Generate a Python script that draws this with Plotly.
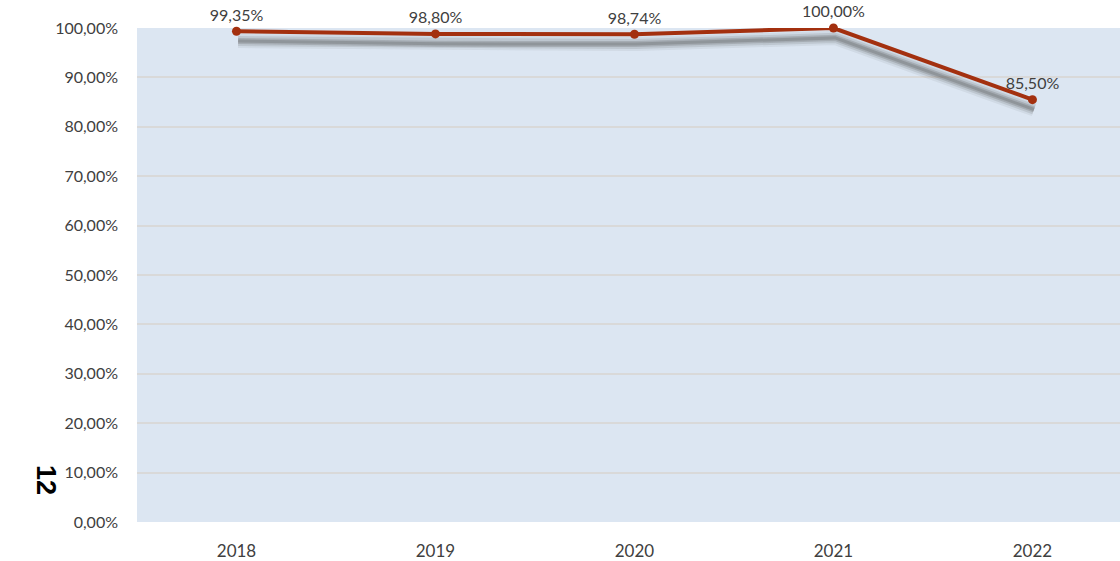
import plotly.graph_objects as go

years = ["2018", "2019", "2020", "2021", "2022"]
values = [99.35, 98.80, 98.74, 100.00, 85.50]
y_ticks = [0, 10, 20, 30, 40, 50, 60, 70, 80, 90, 100]
side_label = "12"

xs = list(range(len(years)))
shadow_dx = 0.008
shadow_dy = -2.0

FONT = "Lato, Open Sans, Liberation Sans, sans-serif"

fig = go.Figure()
# soft shadow (layers for blur)
for col, w in [("rgba(80,80,80,0.08)", 14), ("rgba(80,80,80,0.14)", 10), ("rgba(80,80,80,0.22)", 6), ("rgba(80,80,80,0.25)", 3)]:
    fig.add_trace(go.Scatter(x=[x + shadow_dx for x in xs], y=[v + shadow_dy for v in values],
                             mode="lines", line=dict(color=col, width=w),
                             hoverinfo="skip", showlegend=False, cliponaxis=False))
fig.add_trace(go.Scatter(x=xs, y=values, mode="lines+markers+text",
                         line=dict(color="#a3300f", width=4),
                         marker=dict(color="#a3300f", size=9),
                         text=[f"{v:.2f}".replace(".", ",") + "%" for v in values],
                         textposition="top center",
                         textfont=dict(family=FONT, size=16, color="#404040"),
                         showlegend=False, cliponaxis=False))

fig.add_annotation(text=f"<b>{side_label}</b>", xref="paper", yref="paper",
                   x=-0.0926, y=0.085, xanchor="center", yanchor="middle",
                   showarrow=False, textangle=90,
                   font=dict(family="Liberation Sans, Arial, sans-serif", size=27, color="#000000"))

fig.update_layout(
    width=1120, height=561,
    margin=dict(l=137, r=0, t=28, b=39),
    paper_bgcolor="white", plot_bgcolor="#dce6f2",
    font=dict(family=FONT, size=16, color="#404040"),
)
fig.update_xaxes(tickvals=xs, ticktext=years, range=[-0.5, 4.44], showgrid=False,
                 zeroline=False, showline=False, ticklabelstandoff=17,
                 tickfont=dict(family=FONT, size=17, color="#404040"))
fig.update_yaxes(range=[0, 100], tickvals=y_ticks,
                 ticktext=[f"{t:.2f}".replace(".", ",") + "%" for t in y_ticks],
                 showgrid=True, gridcolor="#d9d9d9", gridwidth=1.5, zeroline=False,
                 showline=False, ticklabelstandoff=18,
                 tickfont=dict(family=FONT, size=16, color="#404040"))

fig.write_html("out.html", config={"displayModeBar": False},
               post_script="document.body.style.margin='0';document.body.style.overflow='hidden';")
